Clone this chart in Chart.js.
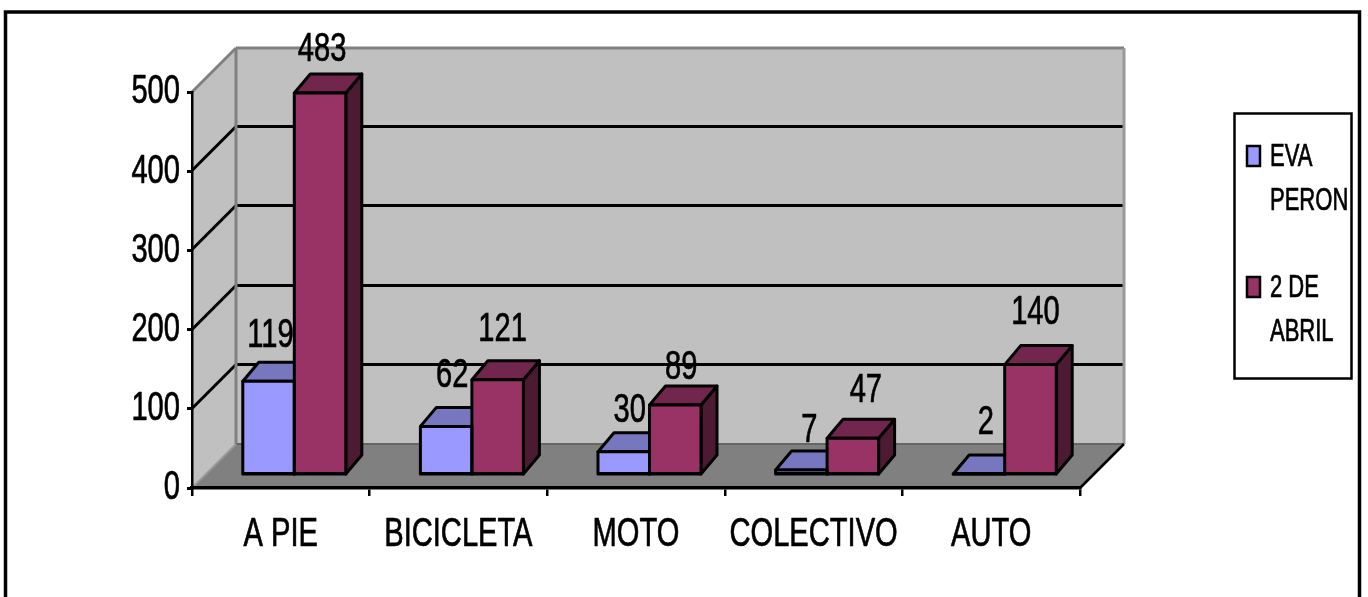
<!DOCTYPE html>
<html lang="es">
<head>
<meta charset="utf-8">
<title>Medio de transporte por barrio</title>
<style>
  html, body { margin: 0; padding: 0; background: #fff; }
  #wrap { width: 1368px; height: 597px; position: relative; overflow: hidden; }
</style>
<script src="https://cdn.jsdelivr.net/npm/chart.js@4"></script>
</head>
<body>
<div id="wrap"><canvas id="chart" width="1368" height="597"></canvas></div>
<script>
const categories = ['A PIE', 'BICICLETA', 'MOTO', 'COLECTIVO', 'AUTO'];
const evaPeron = [119, 62, 30, 7, 2];
const dosDeAbril = [483, 121, 89, 47, 140];
const seriesNames = ['EVA PERON', '2 DE ABRIL'];
const legendLines = [['EVA', 'PERON'], ['2 DE', 'ABRIL']];
const yTicks = [0, 100, 200, 300, 400, 500];

const FONT = '"Liberation Sans", Arial, sans-serif';
const TEXT_SQUEEZE = 0.71;      // horizontal squeeze of every text run
const WALL = { dx: 44, dy: -44 };        // depth of the box behind the front axes
const BAR_SHIFT = { dx: 13.5, dy: -12.5 }; // bars stand part way into the box
const BAR_DEPTH = { dx: 16, dy: -19 };   // extrusion of each bar

// Hand placement of the value labels, per series and category: [dx, dy]
const labelNudge = [
  [[-2, 0], [2, -5], [2, 4], [4, 6], [3, -6]],
  [[-2, 2], [1, -4], [2, 8], [9, -2], [1, -6]]
];

const faces = [
  { front: '#9999FF', top: '#7777C0', side: '#4D4D80' },
  { front: '#993366', top: '#73264D', side: '#4D1A33' }
];

function poly(ctx, pts, fill, stroke, lw) {
  ctx.beginPath();
  pts.forEach((p, i) => i ? ctx.lineTo(p[0], p[1]) : ctx.moveTo(p[0], p[1]));
  ctx.closePath();
  if (fill) { ctx.fillStyle = fill; ctx.fill(); }
  if (stroke) { ctx.strokeStyle = stroke; ctx.lineWidth = lw; ctx.lineJoin = 'round'; ctx.stroke(); }
}

function line(ctx, x1, y1, x2, y2, color, lw) {
  ctx.beginPath();
  ctx.moveTo(x1, y1);
  ctx.lineTo(x2, y2);
  ctx.strokeStyle = color;
  ctx.lineWidth = lw;
  ctx.stroke();
}

// Narrow all text on the chart's context, keeping each run anchored at its x,
// and thicken the strokes a touch.
const squeezedText = {
  id: 'squeezedText',
  beforeInit(chart) {
    const ctx = chart.ctx;
    const fill = ctx.fillText.bind(ctx);
    const outline = ctx.strokeText.bind(ctx);
    ctx.fillText = function (t, x, y) {
      ctx.save();
      ctx.translate(x, y);
      ctx.scale(TEXT_SQUEEZE, 1);
      ctx.strokeStyle = ctx.fillStyle;
      ctx.lineWidth = 0.7;
      fill(t, 0, 0);
      outline(t, 0, 0);
      ctx.restore();
    };
  }
};

// Frame, walls, floor and the gridlines that run across them.
const box = {
  id: 'box',
  beforeDraw(chart) {
    const { ctx, scales: { x, y } } = chart;
    const l = x.left, r = x.right;
    const y0 = y.getPixelForValue(0), yMax = y.getPixelForValue(500);
    const dx = WALL.dx, dy = WALL.dy;

    ctx.save();
    ctx.fillStyle = '#fff';
    ctx.fillRect(0, 0, chart.width, chart.height);
    ctx.strokeStyle = '#000';
    ctx.lineWidth = 3.5;
    ctx.strokeRect(5.5, 12, 1354, 800);

    poly(ctx, [[l, y0], [l + dx, y0 + dy], [l + dx, yMax + dy], [l, yMax]], '#C0C0C0');
    poly(ctx, [[l + dx, y0 + dy], [r + dx, y0 + dy], [r + dx, yMax + dy], [l + dx, yMax + dy]], '#C0C0C0');
    poly(ctx, [[l, y0], [r, y0], [r + dx, y0 + dy], [l + dx, y0 + dy]], '#808080');

    yTicks.slice(1, -1).forEach(v => {
      const py = Math.round(y.getPixelForValue(v)) - 0.5;
      line(ctx, l, py, l + dx, py + dy, '#000', 3);
      line(ctx, l + dx, py + dy, r + dx, py + dy, '#000', 3);
    });

    const edge = '#808080';
    line(ctx, l, yMax, l + dx, yMax + dy, edge, 3);
    line(ctx, l + dx, yMax + dy, r + dx, yMax + dy, edge, 3);
    line(ctx, l + dx, yMax + dy, l + dx, y0 + dy, edge, 3);
    line(ctx, r + dx, yMax + dy, r + dx, y0 + dy, '#999', 3);
    line(ctx, l + dx, y0 + dy, r + dx, y0 + dy, '#666', 2);
    line(ctx, l, y0, l + dx, y0 + dy, '#999', 2);
    line(ctx, r, y0, r + dx, y0 + dy, '#000', 2.5);
    ctx.restore();
  }
};

// Top and side faces go down first; the library's bars then fill the front faces,
// and their outlines are stroked last so each one sits centred on the bar's edge.
const extrudedBars = {
  id: 'extrudedBars',
  beforeDatasetsDraw(chart) {
    const ctx = chart.ctx;
    const d = BAR_DEPTH;
    ctx.save();
    ctx.translate(BAR_SHIFT.dx, BAR_SHIFT.dy);
    [0, 1].forEach(ds => {
      chart.getDatasetMeta(ds).data.forEach(bar => {
        const { x, y, base, width } = bar.getProps(['x', 'y', 'base', 'width'], true);
        const a = x - width / 2, b = x + width / 2;
        poly(ctx, [[b, y], [b + d.dx, y + d.dy], [b + d.dx, base + d.dy], [b, base]], faces[ds].side, '#000', 3);
        poly(ctx, [[a, y], [a + d.dx, y + d.dy], [b + d.dx, y + d.dy], [b, y]], faces[ds].top, '#000', 3);
      });
    });
    ctx.restore();
    ctx.save();
    ctx.translate(BAR_SHIFT.dx, BAR_SHIFT.dy);
  },
  afterDatasetsDraw(chart) {
    const ctx = chart.ctx;
    [0, 1].forEach(ds => {
      chart.getDatasetMeta(ds).data.forEach(bar => {
        const { x, y, base, width } = bar.getProps(['x', 'y', 'base', 'width'], true);
        const a = x - width / 2, b = x + width / 2;
        poly(ctx, [[a, y], [b, y], [b, base], [a, base]], null, '#000', 3);
        line(ctx, a, base - 0.5, b, base - 0.5, '#000', 3);
      });
    });
    ctx.restore();
  }
};

// Value labels above the bars, then the legend box.
const annotations = {
  id: 'annotations',
  afterDraw(chart) {
    const ctx = chart.ctx;
    ctx.save();
    ctx.fillStyle = '#000';
    ctx.textAlign = 'center';
    ctx.textBaseline = 'middle';
    ctx.font = '41px ' + FONT;
    [0, 1].forEach(ds => {
      chart.getDatasetMeta(ds).data.forEach((bar, i) => {
        const value = chart.data.datasets[ds].data[i];
        const n = labelNudge[ds][i];
        ctx.fillText(String(value), bar.x + BAR_SHIFT.dx + 4 + n[0], bar.y - 14 - 44 + n[1]);
      });
    });

    ctx.strokeStyle = '#000';
    ctx.lineWidth = 2.5;
    ctx.strokeRect(1234.5, 113.5, 117, 265);
    ctx.textAlign = 'left';
    ctx.font = '31px ' + FONT;
    legendLines.forEach((lines, s) => {
      const top = 157 + s * 131;
      ctx.fillStyle = faces[s].front;
      ctx.fillRect(1247, top - 11, 13, 20);
      ctx.strokeStyle = '#000';
      ctx.lineWidth = 2.5;
      ctx.strokeRect(1247, top - 11, 13, 20);
      ctx.fillStyle = '#000';
      lines.forEach((t, i) => ctx.fillText(t, 1270, top + i * 44));
    });
    ctx.restore();
  }
};

const barStyle = { borderWidth: 0, clip: false };

new Chart(document.getElementById('chart'), {
  type: 'bar',
  data: {
    labels: categories,
    datasets: [
      { label: seriesNames[0], data: evaPeron, backgroundColor: faces[0].front, ...barStyle },
      { label: seriesNames[1], data: dosDeAbril, backgroundColor: faces[1].front, ...barStyle }
    ]
  },
  options: {
    responsive: false,
    animation: false,
    devicePixelRatio: 1,
    layout: { padding: { left: 92, top: 92, right: 288, bottom: 0 } },
    datasets: { bar: { categoryPercentage: 0.58, barPercentage: 1 } },
    plugins: { legend: { display: false }, tooltip: { enabled: false } },
    scales: {
      x: {
        afterFit(s) { s.height = 109; },
        grid: { drawOnChartArea: false, color: '#000', lineWidth: 2.5, tickLength: 8 },
        border: { color: '#000', width: 3.5 },
        ticks: {
          color: '#000',
          font: { family: FONT, size: 41 },
          autoSkip: false, maxRotation: 0, minRotation: 0, padding: 14
        }
      },
      y: {
        min: 0, max: 500,
        afterFit(s) { s.width = 100; },
        afterBuildTicks(s) { s.ticks = yTicks.map(value => ({ value })); },
        grid: { drawOnChartArea: false, color: '#000', lineWidth: 3, tickLength: 5 },
        border: { color: '#000', width: 2.5 },
        ticks: { color: '#000', font: { family: FONT, size: 41 }, padding: 7 }
      }
    }
  },
  plugins: [squeezedText, box, extrudedBars, annotations]
});
</script>
</body>
</html>
